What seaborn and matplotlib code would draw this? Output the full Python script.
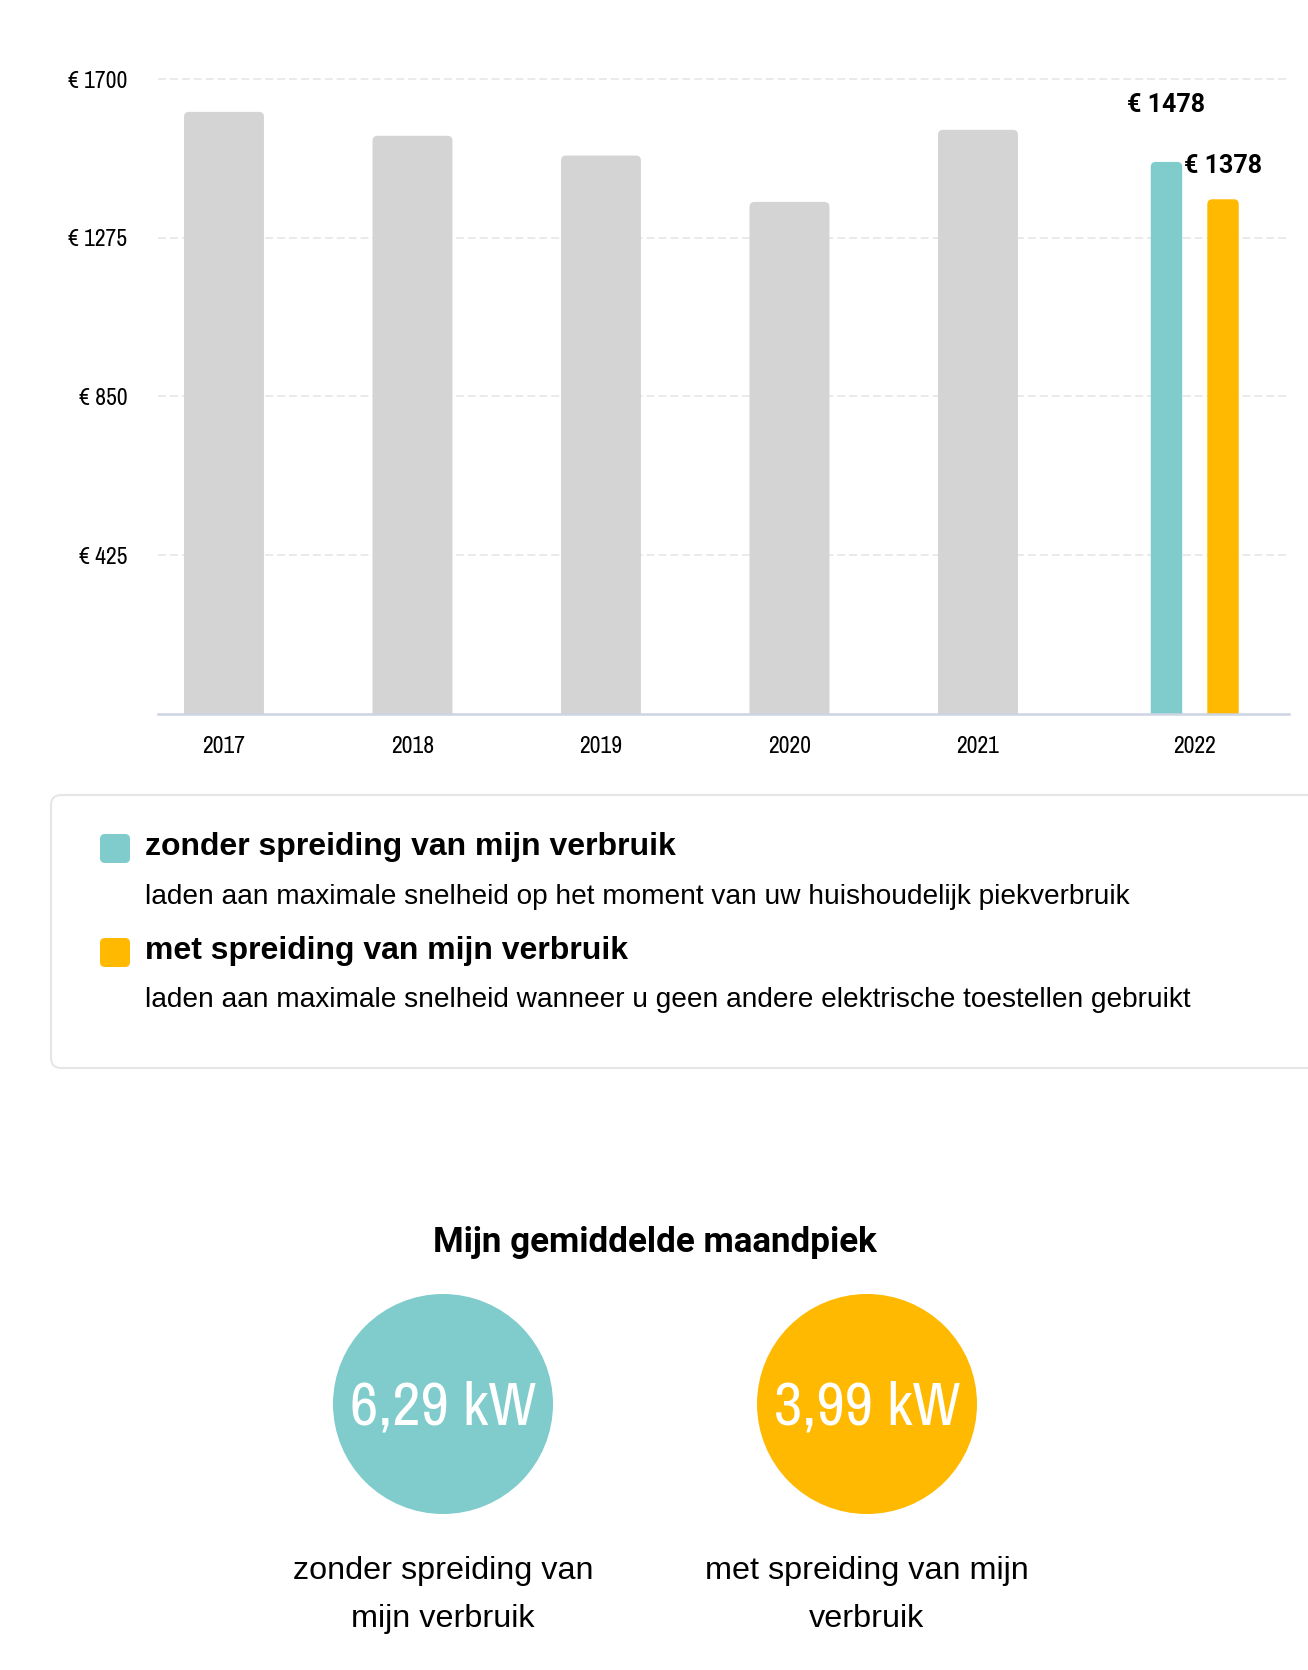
import numpy as np
import pandas as pd
import matplotlib
matplotlib.use('Agg')
import matplotlib.pyplot as plt
import seaborn as sns
from matplotlib.patches import FancyBboxPatch, Circle

# ==========================================
# 1. Data
# ==========================================
jaren = ['2017', '2018', '2019', '2020', '2021', '2022']
kost_historiek = [1612, 1548, 1495, 1371, 1564]      # 2017 - 2021
kost_2022 = [1478, 1378]                              # zonder / met spreiding
scenarios = ['zonder spreiding van mijn verbruik', 'met spreiding van mijn verbruik']
scenario_uitleg = [
    'laden aan maximale snelheid op het moment van uw huishoudelijk piekverbruik',
    'laden aan maximale snelheid wanneer u geen andere elektrische toestellen gebruikt',
]
y_ticks = [425, 850, 1275, 1700]
piek_titel = 'Mijn gemiddelde maandpiek'
piek_kw = [6.29, 3.99]
piek_labels = ['zonder spreiding van\nmijn verbruik', 'met spreiding van mijn\nverbruik']

# ==========================================
# 2. Stijl
# ==========================================
GRIJS = '#d4d4d4'
TEAL = '#80cccc'
GEEL = '#ffb900'
NARROW = ['Liberation Sans Narrow', 'Archivo Narrow', 'DejaVu Sans']
BOLD_CIJFERS = ['Roboto', 'DejaVu Sans']

sns.set_theme(style='white')
plt.rcParams['font.family'] = ['Liberation Sans', 'DejaVu Sans']

W, H = 1308, 1670
fig = plt.figure(figsize=(W / 100, H / 100), dpi=100)

# posities van de jaren op de x-as (2022 iets verder, twee balken)
slot = [0, 1, 2, 3, 4, 5.15]
y_top = 1705
ax_top_px = 714 - y_top * 635 / 1700
ax = fig.add_axes([158 / W, 1 - 714 / H, 1131 / W, (714 - ax_top_px) / H])

df_hist = pd.DataFrame({'pos': slot[:5], 'kost': kost_historiek})
df_22 = pd.DataFrame({'pos': [slot[5]] * 2, 'kost': kost_2022, 'scenario': scenarios})

sns.barplot(data=df_hist, x='pos', y='kost', orient='x', native_scale=True,
            width=0.424, color=GRIJS, saturation=1, errorbar=None, ax=ax)
sns.barplot(data=df_22, x='pos', y='kost', hue='scenario', hue_order=scenarios,
            palette=[TEAL, GEEL], orient='x', native_scale=True, width=0.6, gap=0.444,
            dodge=True, saturation=1, errorbar=None, legend=False, ax=ax)

ax.set_xlim(-0.35, 5.65)
ax.set_ylim(0, y_top)
ax.set_xlabel('')
ax.set_ylabel('')
ax.set_xticks(slot, labels=jaren)
ax.set_yticks(y_ticks, labels=[f'€ {v}' for v in y_ticks])
ax.tick_params(axis='y', length=0, pad=22, labelsize=17, labelcolor='black')
ax.tick_params(axis='x', length=0, pad=16, labelsize=17, labelcolor='black')
for lab in ax.get_xticklabels() + ax.get_yticklabels():
    lab.set_family(NARROW)

ax.yaxis.grid(True, color='#e4e4e4', linestyle=(0, (5.2, 2.6)), linewidth=1.1)
ax.xaxis.grid(False)
ax.set_axisbelow(True)
for s in ['left', 'top', 'right']:
    ax.spines[s].set_visible(False)
ax.spines['bottom'].set_color('#ccd4e4')
ax.spines['bottom'].set_linewidth(1.8)

# balken met afgeronde bovenhoeken
p0 = ax.transData.transform((0, 0))
p1 = ax.transData.transform((1, 1))
px_x, px_y = p1[0] - p0[0], p1[1] - p0[1]
r_px = 5
rx, ry = r_px / px_x, r_px / px_y
bars = []
for p in list(ax.patches):
    x, y, w, h = p.get_x(), p.get_y(), p.get_width(), p.get_height()
    fc = p.get_facecolor()
    p.remove()
    ax.add_patch(FancyBboxPatch((x, y - ry), w, h + ry,
                                boxstyle=f'round,pad=0,rounding_size={rx}',
                                mutation_aspect=px_x / px_y, fc=fc, ec='none', lw=0))
    bars.append((x + w / 2, h))

# waarden boven de balken van 2022
bars_22 = sorted(bars)[-2:]
offsets_pt = [36, 19]
for (bx, bh), off in zip(bars_22, offsets_pt):
    ax.annotate(f'€ {bh:.0f}', xy=(bx, bh), xytext=(0, off), textcoords='offset points',
                ha='center', va='baseline', fontsize=18, fontweight='bold',
                family=BOLD_CIJFERS, color='black')

# ==========================================
# 3. Legende en maandpiek (in pixelcoördinaten)
# ==========================================
lay = fig.add_axes([0, 0, 1, 1])
lay.set_xlim(0, W)
lay.set_ylim(H, 0)
lay.axis('off')

lay.add_patch(FancyBboxPatch((51, 795), 1320, 273, boxstyle='round,pad=0,rounding_size=10',
                             fc='white', ec='#e6e6e6', lw=1.5))
for i, (naam, uitleg, kleur) in enumerate(zip(scenarios, scenario_uitleg, [TEAL, GEEL])):
    y0 = 834 + i * 104
    lay.add_patch(FancyBboxPatch((100, y0), 30, 29, boxstyle='round,pad=0,rounding_size=5',
                                 fc=kleur, ec='none'))
    lay.text(145, 855 + i * 103.5, naam, fontsize=23, fontweight='bold',
             va='baseline', ha='left', color='black')
    lay.text(145, 903.5 + i * 103.5, uitleg, fontsize=20.2, va='baseline', ha='left',
             color='black')

lay.text(655, 1252, piek_titel, ha='center', va='baseline', fontsize=25.2,
         fontweight='bold', family=['Roboto', 'DejaVu Sans'], color='black')

cirkel_x = [443, 867]
for cx, kw, lab, kleur in zip(cirkel_x, piek_kw, piek_labels, [TEAL, GEEL]):
    lay.add_patch(Circle((cx, 1404), 110, fc=kleur, ec='none'))
    lay.text(cx, 1425, f'{kw:.2f}'.replace('.', ',') + ' kW', ha='center', va='baseline',
             fontsize=44.5, color='white', family=NARROW)
    for j, regel in enumerate(lab.split('\n')):
        lay.text(cx, 1579 + j * 48, regel, ha='center', va='baseline', fontsize=23.3,
                 color='black')

fig.savefig('out.png', dpi=100, facecolor='white')
